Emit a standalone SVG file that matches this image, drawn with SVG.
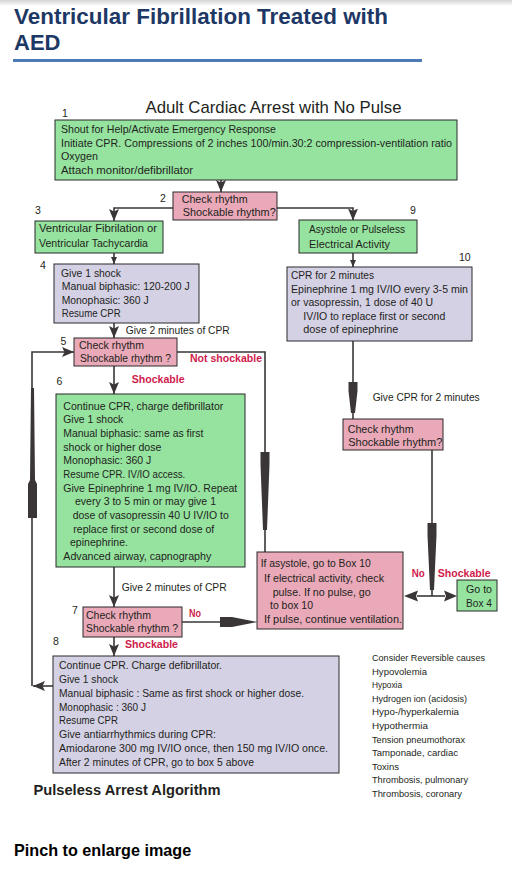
<svg xmlns="http://www.w3.org/2000/svg" width="512" height="896" viewBox="0 0 512 896">
<defs>
<linearGradient id="topfade" x1="0" y1="0" x2="0" y2="1">
<stop offset="0" stop-color="#d4d4d4"/>
<stop offset="1" stop-color="#ffffff"/>
</linearGradient>
<marker id="ah" viewBox="0 0 12 10" refX="12" refY="5" markerWidth="12" markerHeight="10" markerUnits="userSpaceOnUse" orient="auto">
<path d="M0,0 L12,5 L0,10 L2.5,5 z" fill="#3a3637"/>
</marker>
<marker id="sm" viewBox="0 0 7 6" refX="7" refY="3" markerWidth="7" markerHeight="6" markerUnits="userSpaceOnUse" orient="auto">
<path d="M0,0 L7,3 L0,6 z" fill="#3a3637"/>
</marker>
</defs>
<style>
.bx{stroke:#2b2b2b;stroke-width:1}
.gr{fill:#95e39f}
.pk{fill:#e9a9b8}
.lv{fill:#d5d1e5}
.t{font-family:"Liberation Sans",Arial,sans-serif;font-size:11px;fill:#231f20}
.s{font-family:"Liberation Sans",Arial,sans-serif;font-size:9.5px;fill:#231f20}
.n{font-family:"Liberation Sans",Arial,sans-serif;font-size:10.5px;fill:#231f20}
.r{font-family:"Liberation Sans",Arial,sans-serif;font-size:10.5px;font-weight:bold;fill:#cf1b4d}
.ln{fill:none;stroke:#3a3637;stroke-width:1.6}
.tp{fill:#3a3637}
.ttl{font-family:"Liberation Sans",Arial,sans-serif;font-size:22px;font-weight:bold;fill:#1e3865}
</style>
<rect x="0" y="0" width="512" height="6" fill="url(#topfade)"/>
<g id="title">
<text class="ttl" x="14" y="24" textLength="374" lengthAdjust="spacingAndGlyphs">Ventricular Fibrillation Treated with</text>
<text class="ttl" x="14" y="50">AED</text>
<rect x="13" y="59" width="409" height="3" fill="#4d79b4"/>
</g>
<text id="heading" x="145.5" y="112.7" font-family="Liberation Sans, Arial, sans-serif" font-size="17" fill="#231f20" textLength="256" lengthAdjust="spacingAndGlyphs">Adult Cardiac Arrest with No Pulse</text>

<g id="connectors">
<path class="ln" d="M221,180 V192" marker-end="url(#ah)"/>
<path class="ln" d="M173,208 H114 V221" marker-end="url(#ah)"/>
<path class="ln" d="M277,208 H353 V220.5" marker-end="url(#ah)"/>
<path class="ln" d="M114,253 V264" marker-end="url(#sm)"/>
<path class="ln" d="M353,253 V267" marker-end="url(#sm)"/>
<path class="ln" d="M114,323 V338" marker-end="url(#ah)"/>
<path class="ln" d="M114,366 V394" marker-end="url(#ah)"/>
<path class="ln" d="M177,352 H265 V552"/>
<polygon class="tp" points="260.5,452 269.5,452 269.5,464 267,530 263,530 260.5,464"/>
<path class="ln" d="M353,341 V419"/>
<polygon class="tp" points="348.5,382 357.5,382 357.5,391 355,413 351,413 348.5,391"/>
<path class="ln" d="M432,450 V596"/>
<polygon class="tp" points="427.5,523 436.5,523 436.5,535 434,590 430,590 427.5,535"/>
<path class="ln" d="M417,596 H445"/>
<polygon class="tp" points="404,596 418,590.5 416,596 418,601.5"/>
<polygon class="tp" points="457,596 444,590.5 446,596 444,601.5"/>
<path class="ln" d="M114,567 V607" marker-end="url(#ah)"/>
<path class="ln" d="M182,622 H222"/>
<polygon class="tp" points="220,617 232,617 257.5,622 232,627 220,627"/>
<path class="ln" d="M114,637 V656" marker-end="url(#ah)"/>
<path class="ln" d="M53,686 H33" marker-end="url(#ah)"/>
<path class="ln" d="M32,686 V352 H74" marker-end="url(#ah)"/>
<polygon class="tp" points="31,388 34,388 35,480 37,484 37,518 28,518 28,484 30,480"/>
</g>

<g id="box1">
<rect class="bx gr" x="55" y="120" width="402" height="60"/>
<text class="n" x="62" y="117">1</text>
<text class="t" x="61" y="133" textLength="215" lengthAdjust="spacingAndGlyphs">Shout for Help/Activate Emergency Response</text>
<text class="t" x="61" y="146.5" textLength="391" lengthAdjust="spacingAndGlyphs">Initiate CPR. Compressions of 2 inches 100/min.30:2 compression-ventilation ratio</text>
<text class="t" x="61" y="160" textLength="37" lengthAdjust="spacingAndGlyphs">Oxygen</text>
<text class="t" x="61" y="173.5" textLength="132" lengthAdjust="spacingAndGlyphs">Attach monitor/defibrillator</text>
</g>

<g id="box2">
<rect class="bx pk" x="173" y="192" width="104" height="28"/>
<text class="n" x="160" y="202">2</text>
<text class="t" x="181.7" y="203.3" textLength="66" lengthAdjust="spacingAndGlyphs">Check rhythm</text>
<text class="t" x="182.7" y="215.7" textLength="93" lengthAdjust="spacingAndGlyphs">Shockable rhythm?</text>
</g>

<g id="box3">
<rect class="bx gr" x="35" y="221" width="128" height="32"/>
<text class="n" x="35" y="214">3</text>
<text class="t" x="39" y="232" textLength="118" lengthAdjust="spacingAndGlyphs">Ventricular Fibrilation or</text>
<text class="t" x="39" y="246.5" textLength="109" lengthAdjust="spacingAndGlyphs">Ventricular Tachycardia</text>
</g>

<g id="box9">
<rect class="bx gr" x="299" y="220" width="118" height="33"/>
<text class="n" x="410" y="214">9</text>
<text class="t" x="309" y="233.3" textLength="96" lengthAdjust="spacingAndGlyphs">Asystole or Pulseless</text>
<text class="t" x="309" y="247.5" textLength="81" lengthAdjust="spacingAndGlyphs">Electrical Activity</text>
</g>

<g id="box4">
<rect class="bx lv" x="54" y="264" width="145" height="59"/>
<text class="n" x="40" y="269">4</text>
<text class="t" x="61" y="276.7" textLength="60" lengthAdjust="spacingAndGlyphs">Give 1 shock</text>
<text class="t" x="61.7" y="290.2" textLength="128" lengthAdjust="spacingAndGlyphs">Manual biphasic: 120-200 J</text>
<text class="t" x="61.7" y="303.8" textLength="87" lengthAdjust="spacingAndGlyphs">Monophasic: 360 J</text>
<text class="t" x="61.7" y="317.3" textLength="59" lengthAdjust="spacingAndGlyphs">Resume CPR</text>
</g>

<g id="box10">
<rect class="bx lv" x="287" y="267" width="185" height="74"/>
<text class="n" x="459" y="261">10</text>
<text class="t" x="291" y="279.3" textLength="83" lengthAdjust="spacingAndGlyphs">CPR for 2 minutes</text>
<text class="t" x="291" y="292.7" textLength="177" lengthAdjust="spacingAndGlyphs">Epinephrine 1 mg IV/IO every 3-5 min</text>
<text class="t" x="291" y="306.3" textLength="142" lengthAdjust="spacingAndGlyphs">or  vasopressin, 1 dose of 40 U</text>
<text class="t" x="303.3" y="319.8" textLength="142" lengthAdjust="spacingAndGlyphs">IV/IO to replace first or second</text>
<text class="t" x="303.3" y="333.3" textLength="95" lengthAdjust="spacingAndGlyphs">dose of epinephrine</text>
</g>

<text class="t" x="125.7" y="334" textLength="104" lengthAdjust="spacingAndGlyphs">Give 2 minutes of CPR</text>

<g id="box5">
<rect class="bx pk" x="74" y="338" width="103" height="28"/>
<text class="n" x="60.5" y="345">5</text>
<text class="t" x="79" y="348.8" textLength="65" lengthAdjust="spacingAndGlyphs">Check rhythm</text>
<text class="t" x="80" y="361.5" textLength="91" lengthAdjust="spacingAndGlyphs">Shockable rhythm ?</text>
</g>
<text class="r" x="190" y="361.7" textLength="72" lengthAdjust="spacingAndGlyphs">Not shockable</text>
<text class="r" x="131.7" y="382.7" textLength="53" lengthAdjust="spacingAndGlyphs">Shockable</text>

<g id="box6">
<rect class="bx gr" x="56" y="394" width="189" height="173"/>
<text class="n" x="56.5" y="385">6</text>
<text class="t" x="63.3" y="409.5" textLength="160" lengthAdjust="spacingAndGlyphs">Continue CPR, charge defibrillator</text>
<text class="t" x="63.3" y="423.2" textLength="60" lengthAdjust="spacingAndGlyphs">Give 1 shock</text>
<text class="t" x="63.3" y="437" textLength="140" lengthAdjust="spacingAndGlyphs">Manual biphasic: same as first</text>
<text class="t" x="63.3" y="450.5" textLength="98" lengthAdjust="spacingAndGlyphs">shock or higher dose</text>
<text class="t" x="63.3" y="464.2" textLength="88" lengthAdjust="spacingAndGlyphs">Monophasic: 360 J</text>
<text class="t" x="63.3" y="478" textLength="122" lengthAdjust="spacingAndGlyphs">Resume CPR. IV/IO access.</text>
<text class="t" x="63.3" y="491.5" textLength="174" lengthAdjust="spacingAndGlyphs">Give Epinephrine 1 mg IV/IO.  Repeat</text>
<text class="t" x="75" y="505.3" textLength="141" lengthAdjust="spacingAndGlyphs">every 3 to 5 min or may give 1</text>
<text class="t" x="72.7" y="519" textLength="156" lengthAdjust="spacingAndGlyphs">dose of vasopressin 40 U IV/IO to</text>
<text class="t" x="73.3" y="532.5" textLength="141" lengthAdjust="spacingAndGlyphs">replace first or second dose of</text>
<text class="t" x="70" y="546.3" textLength="58" lengthAdjust="spacingAndGlyphs">epinephrine.</text>
<text class="t" x="63.3" y="560" textLength="148" lengthAdjust="spacingAndGlyphs">Advanced airway, capnography</text>
</g>

<text class="t" x="372.7" y="401" textLength="107" lengthAdjust="spacingAndGlyphs">Give CPR for 2 minutes</text>

<g id="check-right">
<rect class="bx pk" x="343" y="419" width="100" height="31"/>
<text class="t" x="347.7" y="433" textLength="66" lengthAdjust="spacingAndGlyphs">Check rhythm</text>
<text class="t" x="348.3" y="445.8" textLength="94" lengthAdjust="spacingAndGlyphs">Shockable rhythm?</text>
</g>

<g id="box-asystole">
<rect class="bx pk" x="257" y="552" width="146" height="77"/>
<text class="t" x="260.7" y="567.3" textLength="110" lengthAdjust="spacingAndGlyphs">If asystole, go to Box 10</text>
<text class="t" x="264" y="581.5" textLength="120" lengthAdjust="spacingAndGlyphs">If electrical activity, check</text>
<text class="t" x="272.7" y="595.5" textLength="98" lengthAdjust="spacingAndGlyphs">pulse.  If no pulse, go</text>
<text class="t" x="270" y="609.3" textLength="43" lengthAdjust="spacingAndGlyphs">to box 10</text>
<text class="t" x="264" y="623.3" textLength="138" lengthAdjust="spacingAndGlyphs">If pulse, continue ventilation.</text>
</g>

<text class="r" x="411.7" y="576.7" textLength="13" lengthAdjust="spacingAndGlyphs">No</text>
<text class="r" x="437.7" y="576.7" textLength="53" lengthAdjust="spacingAndGlyphs">Shockable</text>

<g id="box-goto4">
<rect class="bx gr" x="457" y="580" width="40" height="31"/>
<text class="t" x="466" y="593.3" textLength="26" lengthAdjust="spacingAndGlyphs">Go to</text>
<text class="t" x="466" y="607.3" textLength="26" lengthAdjust="spacingAndGlyphs">Box 4</text>
</g>

<text class="t" x="121.7" y="590.5" textLength="105" lengthAdjust="spacingAndGlyphs">Give 2 minutes of CPR</text>

<g id="box7">
<rect class="bx pk" x="83" y="607" width="99" height="30"/>
<text class="n" x="72" y="613.5">7</text>
<text class="t" x="86" y="619.3" textLength="65" lengthAdjust="spacingAndGlyphs">Check rhythm</text>
<text class="t" x="86" y="632.3" textLength="92" lengthAdjust="spacingAndGlyphs">Shockable rhythm ?</text>
</g>
<text class="r" x="189" y="616.7" textLength="12" lengthAdjust="spacingAndGlyphs">No</text>
<text class="r" x="125" y="648.3" textLength="53" lengthAdjust="spacingAndGlyphs">Shockable</text>

<g id="box8">
<rect class="bx lv" x="53" y="656" width="286" height="117"/>
<text class="n" x="53" y="645">8</text>
<text class="t" x="59" y="669" textLength="163" lengthAdjust="spacingAndGlyphs">Continue CPR. Charge defibrillator.</text>
<text class="t" x="59" y="683" textLength="59" lengthAdjust="spacingAndGlyphs">Give 1 shock</text>
<text class="t" x="59" y="697" textLength="245" lengthAdjust="spacingAndGlyphs">Manual biphasic : Same as first shock or higher dose.</text>
<text class="t" x="59" y="710.7" textLength="87" lengthAdjust="spacingAndGlyphs">Monophasic : 360 J</text>
<text class="t" x="59" y="724.3" textLength="59" lengthAdjust="spacingAndGlyphs">Resume CPR</text>
<text class="t" x="59" y="738" textLength="157" lengthAdjust="spacingAndGlyphs">Give antiarrhythmics during CPR:</text>
<text class="t" x="59" y="751.7" textLength="269" lengthAdjust="spacingAndGlyphs">Amiodarone 300 mg IV/IO once, then 150 mg IV/IO once.</text>
<text class="t" x="59" y="765.5" textLength="195" lengthAdjust="spacingAndGlyphs">After 2 minutes of CPR, go to box 5 above</text>
</g>

<g id="causes">
<text class="s" x="372" y="661" textLength="113" lengthAdjust="spacingAndGlyphs">Consider Reversible causes</text>
<text class="s" x="372" y="674.6" textLength="55" lengthAdjust="spacingAndGlyphs">Hypovolemia</text>
<text class="s" x="372" y="688.2" textLength="30" lengthAdjust="spacingAndGlyphs">Hypoxia</text>
<text class="s" x="372" y="701.8" textLength="95" lengthAdjust="spacingAndGlyphs">Hydrogen ion (acidosis)</text>
<text class="s" x="372" y="715.4" textLength="87" lengthAdjust="spacingAndGlyphs">Hypo-/hyperkalemia</text>
<text class="s" x="372" y="729" textLength="56" lengthAdjust="spacingAndGlyphs">Hypothermia</text>
<text class="s" x="372" y="742.6" textLength="93" lengthAdjust="spacingAndGlyphs">Tension pneumothorax</text>
<text class="s" x="372" y="756.2" textLength="86" lengthAdjust="spacingAndGlyphs">Tamponade, cardiac</text>
<text class="s" x="372" y="769.8" textLength="27" lengthAdjust="spacingAndGlyphs">Toxins</text>
<text class="s" x="372" y="783.4" textLength="96" lengthAdjust="spacingAndGlyphs">Thrombosis, pulmonary</text>
<text class="s" x="372" y="797" textLength="90" lengthAdjust="spacingAndGlyphs">Thrombosis, coronary</text>
</g>

<text x="33.5" y="795" font-family="Liberation Sans, Arial, sans-serif" font-size="14.5" font-weight="bold" fill="#231f20" textLength="187" lengthAdjust="spacingAndGlyphs">Pulseless Arrest Algorithm</text>
<text x="14" y="855.5" font-family="Liberation Sans, Arial, sans-serif" font-size="16.2" font-weight="bold" fill="#000">Pinch to enlarge image</text>
</svg>
